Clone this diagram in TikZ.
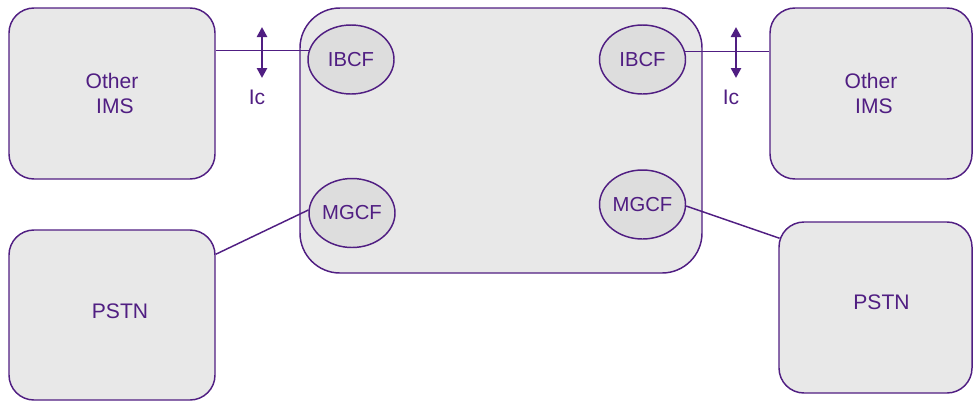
\documentclass[tikz,border=0pt]{standalone}
\usepackage{fontspec}
\setmainfont{Liberation Sans}
\usetikzlibrary{arrows.meta,calc,shapes.geometric}
\newdimen\px \px=0.75pt
\definecolor{ims}{RGB}{80,30,130}
\definecolor{boxfill}{RGB}{232,232,232}
\definecolor{ellfill}{RGB}{221,221,221}
\tikzset{
  netbox/.style={draw=ims, line width=1.1pt, fill=boxfill, rounded corners=25\px,
    text=ims, align=center, font=\fontsize{15.8pt}{18.75pt}\selectfont, inner sep=0pt},
  corebox/.style={draw=ims, line width=1.1pt, fill=boxfill, rounded corners=40\px, inner sep=0pt},
  func/.style={draw=ims, line width=1.1pt, fill=ellfill, ellipse, inner sep=0pt,
    minimum width=86\px, minimum height=69\px, text=ims, font=\fontsize{15.2pt}{18pt}\selectfont},
  link/.style={draw=ims, line width=1.1pt},
  icarrow/.style={draw=ims, line width=2.2pt, {Triangle[width=7.5pt,length=7.5pt]}-{Triangle[width=7.5pt,length=7.5pt]}},
  iclabel/.style={text=ims, font=\fontsize{15.8pt}{18pt}\selectfont, inner sep=0pt}
}
\begin{document}
\begin{tikzpicture}[x=0.75pt,y=-0.75pt]
\useasboundingbox (0,0) rectangle (973,401);
% boxes
\node[netbox, minimum width=206\px, minimum height=171\px] (oimsL) at (112,93.5) {Other\\\ IMS};
\node[netbox, minimum width=206\px, minimum height=170\px] (pstnL) at (112,315) {\hspace*{16\px}\raisebox{8\px}{PSTN}};
\node[corebox, minimum width=402\px, minimum height=265\px] (core) at (501,140.5) {};
\node[netbox, minimum width=202\px, minimum height=171\px] (oimsR) at (871,93.5) {Other\\\ IMS};
\node[netbox, minimum width=193\px, minimum height=171\px] (pstnR) at (875.5,307.5) {\hspace*{12\px}\raisebox{10\px}{PSTN}};
% functions
\node[func] (ibcfL) at (351,59.5) {IBCF};
\node[func] (ibcfR) at (642.5,59.5) {IBCF};
\node[func] (mgcfL) at (352,213) {MGCF};
\node[func] (mgcfR) at (642.5,204.5) {MGCF};
% links
\draw[link] (ibcfL.168.5) -- (ibcfL.168.5 -| oimsL.east);
\draw[link] (ibcfR.11.5) -- (ibcfR.11.5 -| oimsR.west);
\coordinate (pL) at ($(pstnL.north east)+(0,25)$);
\draw[link] (mgcfL.176) -- (pL);
\coordinate (pR) at ($(pstnR.north west)+(1.3,17)$);
\draw[link] (mgcfR.358) -- (pR);
% Ic reference points
\coordinate (aLt) at (262,27);
\coordinate (aLb) at (262,78);
\draw[icarrow] (aLt) -- (aLb);
\node[iclabel] (icL) at (257,97) {Ic};
\coordinate (aRt) at (736,27);
\coordinate (aRb) at (736,78);
\draw[icarrow] (aRt) -- (aRb);
\node[iclabel] (icR) at (731,97) {Ic};
\end{tikzpicture}
\end{document}
